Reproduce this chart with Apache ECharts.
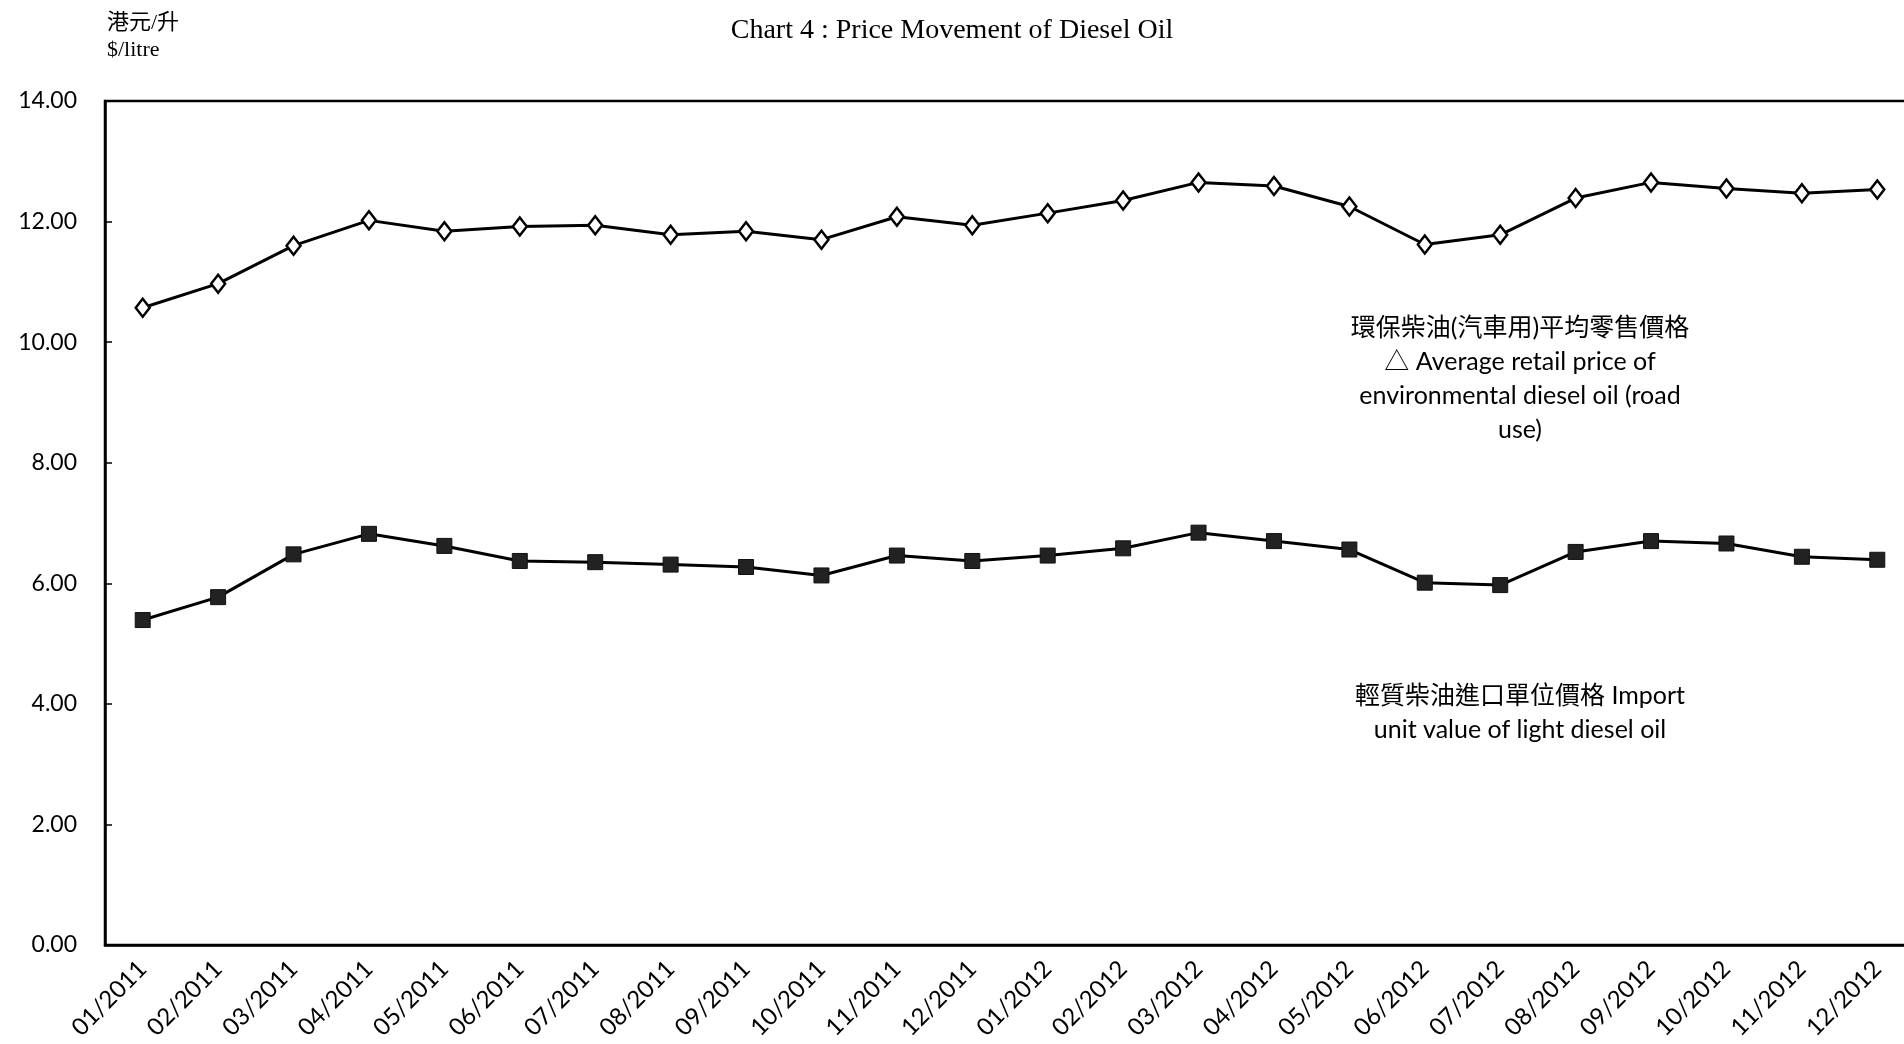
<!DOCTYPE html>
<html>
<head>
<meta charset="utf-8">
<title>Chart 4</title>
<script src="https://cdn.jsdelivr.net/npm/echarts@6/dist/echarts.min.js"></script>
<style>
  html, body { margin: 0; padding: 0; background: #fff; }
  #main { width: 1904px; height: 1044px; }
</style>
</head>
<body>
<div id="main"></div>
<script>
// 月份
var months = ['01/2011', '02/2011', '03/2011', '04/2011', '05/2011', '06/2011',
  '07/2011', '08/2011', '09/2011', '10/2011', '11/2011', '12/2011',
  '01/2012', '02/2012', '03/2012', '04/2012', '05/2012', '06/2012',
  '07/2012', '08/2012', '09/2012', '10/2012', '11/2012', '12/2012'];
// 環保柴油(汽車用)平均零售價格
var retailPrice = [10.57, 10.97, 11.60, 12.02, 11.84, 11.92, 11.94, 11.78, 11.84, 11.70, 12.08, 11.94,
  12.14, 12.35, 12.65, 12.59, 12.25, 11.62, 11.78, 12.39, 12.65, 12.55, 12.47, 12.53];
// 輕質柴油進口單位價格
var importValue = [5.39, 5.77, 6.48, 6.82, 6.62, 6.37, 6.35, 6.31, 6.27, 6.13, 6.46, 6.37,
  6.46, 6.58, 6.84, 6.70, 6.56, 6.01, 5.97, 6.52, 6.70, 6.66, 6.44, 6.39];
// y轴刻度
var yMin = 0, yMax = 14, yStep = 2;

var sansFont = 'Lato, "Noto Sans CJK TC", "DejaVu Sans", sans-serif';
var serifFont = '"Liberation Serif", "Noto Sans CJK TC", serif';

var myChart = echarts.init(document.getElementById('main'));
myChart.setOption({
  backgroundColor: '#fff',
  animation: false,
  grid: {
    left: 105,
    top: 101,
    width: 1810,
    bottom: 99,
    outerBoundsMode: 'none',
    containLabel: false,
    show: true,
    borderColor: '#000',
    borderWidth: 2.5
  },
  xAxis: {
    type: 'category',
    data: months,
    boundaryGap: true,
    axisLine: { lineStyle: { color: '#000', width: 2.5 } },
    axisTick: { inside: true, length: 7, lineStyle: { color: '#000', width: 1.5 } },
    axisLabel: {
      interval: 0,
      rotate: 45,
      margin: 20,
      color: '#000',
      fontFamily: sansFont,
      fontSize: 24
    }
  },
  yAxis: {
    type: 'value',
    min: yMin,
    max: yMax,
    interval: yStep,
    axisLine: { show: true, lineStyle: { color: '#000', width: 2.5 } },
    axisTick: { show: true, inside: true, length: 7, lineStyle: { color: '#000', width: 1.5 } },
    splitLine: { show: false },
    axisLabel: {
      margin: 28,
      color: '#000',
      fontFamily: sansFont,
      fontSize: 23,
      formatter: function (v) { return v.toFixed(2); }
    }
  },
  series: [
    {
      name: 'retail',
      type: 'line',
      data: retailPrice,
      symbol: 'diamond',
      symbolSize: [14, 18],
      lineStyle: { color: '#000', width: 3 },
      itemStyle: { color: '#fff', borderColor: '#000', borderWidth: 2.5 }
    },
    {
      name: 'import',
      type: 'line',
      data: importValue,
      symbol: 'rect',
      symbolSize: 15,
      lineStyle: { color: '#000', width: 3 },
      itemStyle: { color: '#222', borderColor: '#111', borderWidth: 1 }
    }
  ],
  graphic: [
    { type: 'text', left: 'center', top: 17,
      style: { text: 'Chart 4 : Price Movement of Diesel Oil', font: '28px ' + serifFont, fill: '#000' } },
    { type: 'text', left: 107, top: 12,
      style: { text: '港元/升', font: '22px ' + serifFont, fill: '#000' } },
    { type: 'text', left: 107, top: 39,
      style: { text: '$/litre', font: '22px ' + serifFont, fill: '#000' } },
    { type: 'text', x: 1520, y: 311,
      style: {
        text: '環保柴油(汽車用)平均零售價格\n△ Average retail price of\nenvironmental diesel oil (road\nuse)',
        font: '25px ' + sansFont, fill: '#000', align: 'center', lineHeight: 34
      } },
    { type: 'text', x: 1520, y: 679,
      style: {
        text: '輕質柴油進口單位價格 Import\nunit value of light diesel oil',
        font: '25px ' + sansFont, fill: '#000', align: 'center', lineHeight: 34
      } }
  ]
});
</script>
</body>
</html>
